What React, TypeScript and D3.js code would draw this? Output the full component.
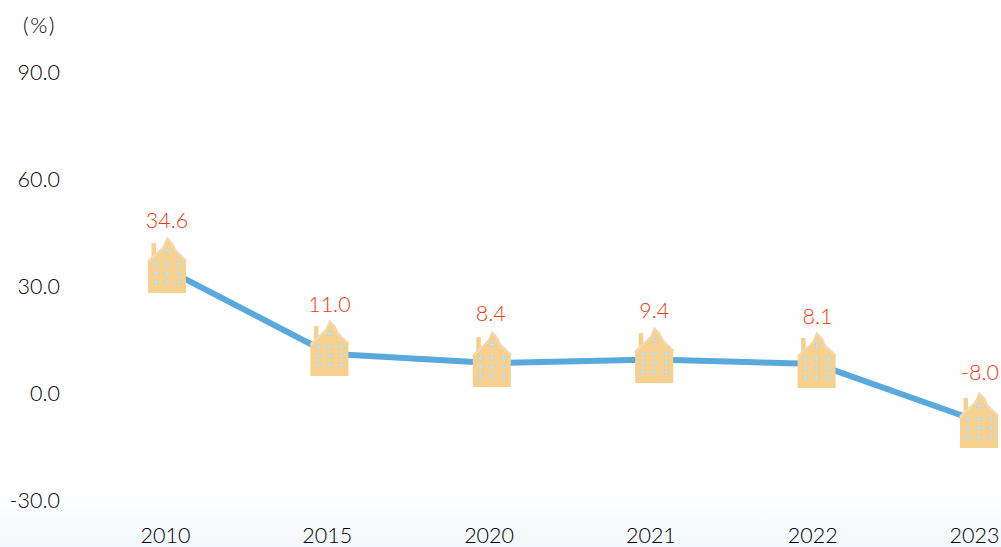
import React from "react";
import * as d3 from "d3";

const years = ["2010", "2015", "2020", "2021", "2022", "2023"];
const growth = [34.6, 11.0, 8.4, 9.4, 8.1, -8.0];
const yTicks = [-30, 0, 30, 60, 90];
const W = 1001, H = 547;
const FONT = "Lato, 'Open Sans', sans-serif";

const x = d3.scalePoint<string>().domain(years).range([167, 979]);
const y = d3.scaleLinear().domain([-30, 90]).range([500, 72]);
const line = d3.line<number>().x((_, i) => x(years[i])!).y((d) => y(d));

const windowRows = [-1, 8, 17];
const windowCols = [-11, 0, 12];

function Win({ cx, cy }: { cx: number; cy: number }) {
  return (
    <g>
      <rect x={cx - 2.2} y={cy - 2} width={4.4} height={4} fill="#bcd5dc" />
      <path d={`M${cx},${cy - 2}V${cy + 2}M${cx - 2.2},${cy}H${cx + 2.2}`} stroke="#dfe8df" strokeWidth={0.6} />
    </g>
  );
}

function House({ cx, cy }: { cx: number; cy: number }) {
  return (
    <g transform={`translate(${cx},${cy})`}>
      <path d="M-15.5,-8 L-15.5,-22 L-11,-22 L-11,-12 L-8,-14 L-4,-18 L0,-28 L6,-22 L9,-15 L19,-5 L19,28 L-19,28 L-19,-4 Z" fill="#f5d08e" />
      <path d="M-20,-4 L-8,-15 L-4,-19 L0,-28 L6,-22 L9,-15.5 L20,-5 L19,-3 L8,-13 L4,-21 L0,-25 L-3,-16 L-8,-12 L-18,-2 Z" fill="#f3d8b4" />
      <Win cx={0} cy={-14.5} />
      {windowRows.flatMap((r) =>
        windowCols.map((c) => <Win key={`${r}_${c}`} cx={c} cy={r} />)
      )}
    </g>
  );
}

const labelNudgeX = [0, 0, -1, 0, 1, 1];
const labelNudgeY = [0, 0, 0, 1, 2, 0];
const houseNudgeY = [-4.6, -5.8, -4, -4.5, -4, -1.5];

export default function App() {
  return (
    <svg width={W} height={H} style={{ position: "absolute", left: 0, top: 0, display: "block" }} fontFamily={FONT} fontWeight={300}>
      <defs>
        <linearGradient id="bg" x1="0" y1="0" x2="0" y2="1">
          <stop offset="0" stopColor="#ffffff" />
          <stop offset="1" stopColor="#f3f8fc" />
        </linearGradient>
      </defs>
      <rect x={0} y={480} width={W} height={67} fill="url(#bg)" />
      <text x={39.5} y={33} textAnchor="middle" fontSize={22} letterSpacing={1.5} fill="#000">(%)</text>
      {yTicks.map((t) => (
        <text key={t} x={60} y={y(t) + 7.5} textAnchor="end" fontSize={21.5} fill="#000">
          {t.toFixed(1)}
        </text>
      ))}
      {years.map((yr, i) => (
        <text key={yr} x={x(yr)! - 1.5 - i * 0.6} y={543} textAnchor="middle" fontSize={21.5} fill="#000">
          {yr}
        </text>
      ))}
      <path d={line(growth)!} fill="none" stroke="#59a9dd" strokeWidth={6} strokeLinejoin="round" />
      {growth.map((v, i) => (
        <g key={years[i]}>
          <House cx={x(years[i])!} cy={y(v) + houseNudgeY[i]} />
          <text x={x(years[i])! + labelNudgeX[i]} y={y(v) - 42 + labelNudgeY[i]} textAnchor="middle" fontSize={21.5} fill="#ee3c0c">
            {v.toFixed(1)}
          </text>
        </g>
      ))}
    </svg>
  );
}
